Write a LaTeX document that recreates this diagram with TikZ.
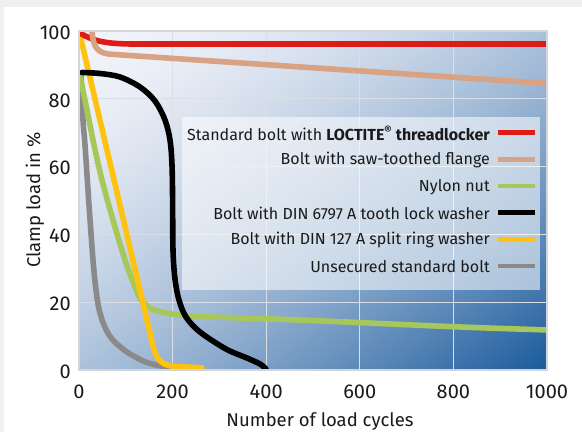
\documentclass[tikz,border=0pt]{standalone}
\usepackage{fontspec}
\setmainfont{Fira Sans}
\definecolor{cRed}{HTML}{DE1B16}
\definecolor{cSal}{HTML}{D9A282}
\definecolor{cGrn}{HTML}{A8C75A}
\definecolor{cYel}{HTML}{FFC20E}
\definecolor{cGry}{HTML}{8A8A8A}
\definecolor{cGrid}{HTML}{DADEE6}
\definecolor{cFrame}{HTML}{D2D5DA}
\definecolor{cTxt}{HTML}{1A1A1A}
\definecolor{cStrip}{HTML}{EFF0F2}
\pgfdeclarefunctionalshading{bgfun}{\pgfpoint{0bp}{0bp}}{\pgfpoint{466.3bp}{337.8bp}}{}{
  337.8 div neg 1 add exch 466.3 div add 0.5 mul 1.6 exp dup dup
  -0.851 mul 0.953 add
  3 1 roll
  -0.604 mul 0.957 add
  exch
  -0.369 mul 0.980 add
}
\tikzset{
  curve/.style={line width=5.6pt, line cap=round, line join=round},
  gridline/.style={cGrid, line width=1.3pt},
  ticklab/.style={font=\fontsize{20}{22}\selectfont, text=cTxt, inner sep=0pt},
  axislab/.style={font=\fontsize{18.5}{21}\selectfont, text=cTxt, inner sep=0pt},
  legtext/.style={font=\fontsize{16}{18}\selectfont, text=cTxt, inner sep=0pt, anchor=east},
  legline/.style={line width=4.6pt}
}
\begin{document}
\begin{tikzpicture}[x=1pt,y=-1pt]
\useasboundingbox (0,0) rectangle (582,432);
\fill[white] (0,0) rectangle (582,432);
\fill[cStrip] (0,0) rectangle (582,7);
\fill[cStrip] (0,7) rectangle (4,432);
% plot background
\node[inner sep=0pt, outer sep=0pt, anchor=north west] (bg) at (79,31) {\pgfuseshading{bgfun}};
% grid
\foreach \gx in {172.6,266.2,359.8,453.4} \draw[gridline] (\gx,31) -- (\gx,370);
\foreach \gy in {98.8,166.6,234.4,302.2} \draw[gridline] (79,\gy) -- (547,\gy);
% curves
\begin{scope}
\clip (79,31) rectangle (547,370);
\draw[curve, cGry] plot[smooth, tension=0.55] coordinates {(81,74) (83,120) (85,145) (89,205) (93,260) (96,290) (99,309) (104,325) (112,339) (127,352) (147,362.5) (167,367) (178,368)};
\draw[curve, cGrn] plot[smooth, tension=0.55] coordinates {(80,76) (87,110) (94,145) (102,180) (113,220) (125,260) (133,282) (140,298) (150,308) (167,313) (200,316.5) (300,320) (453,326.7) (549,330)};
\draw[curve, cYel] (79.5,33) -- (150.5,335) .. controls (155,357) and (158,365) .. (175,366.5) -- (202,367.8);
\draw[curve, cRed] (79,32.5) .. controls (93,41) and (105,44) .. (135,44) -- (549,44);
\draw[curve, cSal] (91.5,26) -- (92,32) .. controls (93.5,49) and (98,54) .. (115,54.5) -- (549,83.6);
\draw[curve, black] plot[smooth, tension=0.55] coordinates {(82,72.5) (100,73.5) (120,77) (140,87) (155,101) (165,120) (170,140) (172,165) (172.6,200) (173,250) (175,279) (179,300) (186,317) (200,332) (226,349) (247,358) (260,364) (266,369)};
\end{scope}
\draw[cFrame, line width=1.4pt] (79,31) rectangle (547,370);
% legend
\fill[white, fill opacity=0.55] (182,117) rectangle (540,290);
\node[legtext] (l1) at (490,133.3) {Standard bolt with \textbf{LOCTITE\textsuperscript{®} threadlocker}};
\node[legtext] (l2) at (490,160) {Bolt with saw-toothed flange};
\node[legtext] (l3) at (490,186.7) {Nylon nut};
\node[legtext] (l4) at (490,213.3) {Bolt with DIN 6797 A tooth lock washer};
\node[legtext] (l5) at (490,240) {Bolt with DIN 127 A split ring washer};
\node[legtext] (l6) at (490,266.7) {Unsecured standard bolt};
\draw[legline, cRed] (498,132.5) -- (535,132.5);
\draw[legline, cSal] (498,159.5) -- (535,159.5);
\draw[legline, cGrn] (498,186) -- (535,186);
\draw[legline, black] (498,212.5) -- (535,212.5);
\draw[legline, cYel] (498,239.5) -- (535,239.5);
\draw[legline, cGry] (498,266) -- (535,266);
% ticks
\node[ticklab, anchor=east] (y100) at (71,33) {100};
\node[ticklab, anchor=east] (y80) at (71,100.5) {80};
\node[ticklab, anchor=east] (y60) at (71,168) {60};
\node[ticklab, anchor=east] (y40) at (71,236) {40};
\node[ticklab, anchor=east] (y20) at (71,304) {20};
\node[ticklab, anchor=east] (y0) at (71,371.5) {0};
\node[ticklab] (x0) at (79,392) {0};
\node[ticklab] (x200) at (172.6,392) {200};
\node[ticklab] (x400) at (266.2,392) {400};
\node[ticklab] (x600) at (359.8,392) {600};
\node[ticklab] (x800) at (453.4,392) {800};
\node[ticklab] (x1000) at (547,392) {1000};
\node[axislab] (xlab) at (320,422) {Number of load cycles};
\node[axislab, rotate=90] (ylab) at (35,200) {Clamp load in \%};
\end{tikzpicture}
\end{document}
